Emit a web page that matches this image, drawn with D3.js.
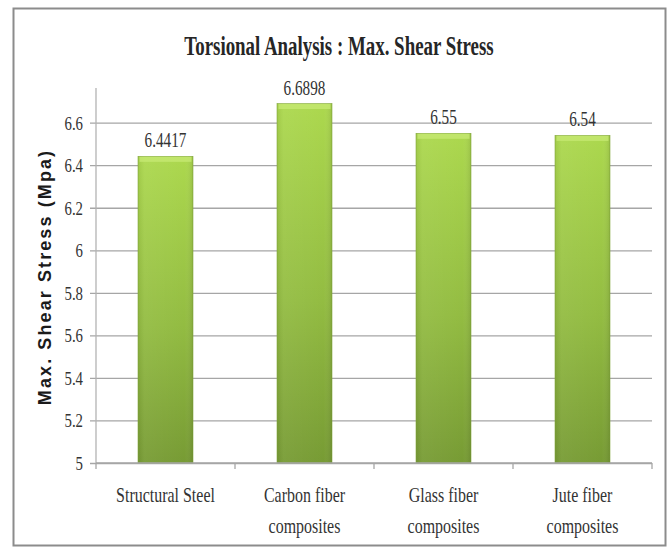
<!DOCTYPE html>
<html>
<head>
<meta charset="utf-8">
<script src="https://cdn.jsdelivr.net/npm/d3@7"></script>
<style>
  html, body { margin: 0; padding: 0; background: #fff; }
  svg { display: block; }
</style>
</head>
<body>
<svg id="chart" width="672" height="548"></svg>
<script>
// Chart data
const categories = [
  ["Structural Steel"],
  ["Carbon fiber", "composites"],
  ["Glass fiber", "composites"],
  ["Jute fiber", "composites"]
];
const values = [6.4417, 6.6898, 6.55, 6.54];
const valueLabels = ["6.4417", "6.6898", "6.55", "6.54"];
const yTicks = [5, 5.2, 5.4, 5.6, 5.8, 6, 6.2, 6.4, 6.6];
const titleText = "Torsional Analysis : Max. Shear Stress";
const yAxisTitle = "Max. Shear Stress (Mpa)";

const svg = d3.select("#chart");
const serif = "'Liberation Serif', 'DejaVu Serif', serif";

// Outer frame
svg.append("rect")
  .attr("x", 13.5).attr("y", 8.5)
  .attr("width", 652).attr("height", 537)
  .attr("fill", "#fff")
  .attr("stroke", "#8c8c8c").attr("stroke-width", 2);

const plot = { left: 96, right: 652, top: 88, bottom: 463 };

const band = d3.scaleBand()
  .domain(d3.range(categories.length))
  .range([plot.left, plot.right]);

const y = d3.scaleLinear()
  .domain([5, 6.763])
  .range([plot.bottom, plot.top]);

const barW = 55;
const cx = i => band(i) + band.bandwidth() / 2;

// Gradients for the bars
const defs = svg.append("defs");
const grad = defs.append("linearGradient")
  .attr("id", "barGrad").attr("x1", 0).attr("y1", 0).attr("x2", 0).attr("y2", 1);
grad.append("stop").attr("offset", "0%").attr("stop-color", "#acd84e");
grad.append("stop").attr("offset", "55%").attr("stop-color", "#93bc42");
grad.append("stop").attr("offset", "100%").attr("stop-color", "#779b34");

const hgrad = defs.append("linearGradient")
  .attr("id", "barSide").attr("x1", 0).attr("y1", 0).attr("x2", 1).attr("y2", 0);
hgrad.append("stop").attr("offset", "0%").attr("stop-color", "#000").attr("stop-opacity", 0.06);
hgrad.append("stop").attr("offset", "12%").attr("stop-color", "#fff").attr("stop-opacity", 0.05);
hgrad.append("stop").attr("offset", "85%").attr("stop-color", "#fff").attr("stop-opacity", 0);
hgrad.append("stop").attr("offset", "100%").attr("stop-color", "#000").attr("stop-opacity", 0.1);

// Gridlines and y axis
const yAxis = d3.axisLeft(y)
  .tickValues(yTicks)
  .tickSize(-(plot.right - plot.left))
  .tickFormat(d3.format("~g"));

const gy = svg.append("g")
  .attr("transform", `translate(${plot.left},0)`)
  .call(yAxis);
gy.select(".domain").remove();
gy.selectAll(".tick line")
  .attr("x1", -6)
  .attr("stroke", "#a6a6a6").attr("stroke-width", 1.3);
gy.selectAll(".tick text")
  .attr("font-family", serif).attr("font-size", 19).attr("fill", "#333")
  .attr("transform", "scale(0.78,1)")
  .attr("x", -13 / 0.78)
  .attr("dy", "0.34em");

// Vertical axis line
svg.append("line")
  .attr("x1", plot.left).attr("x2", plot.left)
  .attr("y1", plot.top).attr("y2", plot.bottom)
  .attr("stroke", "#b3b3b3").attr("stroke-width", 1.3);

// Bars
const bars = svg.append("g").selectAll("g.bar")
  .data(values)
  .join("g").attr("class", "bar");

bars.append("rect")
  .attr("x", (d, i) => cx(i) - barW / 2)
  .attr("width", barW)
  .attr("y", d => y(d))
  .attr("height", d => y(5) - y(d))
  .attr("fill", "url(#barGrad)")
  .attr("stroke", "#84a83c").attr("stroke-width", 0.6);

bars.append("rect")
  .attr("x", (d, i) => cx(i) - barW / 2)
  .attr("width", barW)
  .attr("y", d => y(d))
  .attr("height", d => y(5) - y(d))
  .attr("fill", "url(#barSide)");

// Light bevel at the top of each bar
bars.append("rect")
  .attr("x", (d, i) => cx(i) - barW / 2 + 1.5)
  .attr("width", barW - 3)
  .attr("y", d => y(d) + 0.5)
  .attr("height", 5)
  .attr("fill", "#c6e872").attr("opacity", 0.8);

// Value labels
svg.append("g").selectAll("text")
  .data(values)
  .join("text")
  .attr("text-anchor", "middle")
  .attr("font-family", serif).attr("font-size", 20).attr("fill", "#333")
  .attr("transform", (d, i) => `translate(${cx(i)},${y(d) - 9}) scale(0.76,1)`)
  .text((d, i) => valueLabels[i]);

// X axis baseline and category dividers
svg.append("line")
  .attr("x1", plot.left).attr("x2", plot.right)
  .attr("y1", plot.bottom).attr("y2", plot.bottom)
  .attr("stroke", "#a6a6a6").attr("stroke-width", 1.3);

svg.append("g").selectAll("line")
  .data(d3.range(categories.length + 1))
  .join("line")
  .attr("x1", i => i < categories.length ? band(i) : plot.right)
  .attr("x2", i => i < categories.length ? band(i) : plot.right)
  .attr("y1", plot.bottom).attr("y2", plot.bottom + 6)
  .attr("stroke", "#a6a6a6").attr("stroke-width", 1.3);

// Category labels
const catG = svg.append("g").selectAll("g")
  .data(categories)
  .join("g")
  .attr("transform", (d, i) => `translate(${cx(i)},502) scale(0.76,1)`);
catG.selectAll("text")
  .data(d => d)
  .join("text")
  .attr("text-anchor", "middle")
  .attr("y", (d, j) => j * 31)
  .attr("font-family", serif).attr("font-size", 21).attr("fill", "#333")
  .text(d => d);

// Chart title
svg.append("text")
  .attr("transform", "translate(339,55) scale(0.7,1)")
  .attr("text-anchor", "middle")
  .attr("font-family", serif).attr("font-weight", "bold")
  .attr("font-size", 27).attr("fill", "#262626")
  .text(titleText);

// Y axis title
svg.append("text")
  .attr("transform", "translate(51,277) rotate(-90)")
  .attr("text-anchor", "middle")
  .attr("font-family", "'Liberation Sans', Arial, sans-serif").attr("font-weight", "bold")
  .attr("font-size", 18).attr("fill", "#1a1a1a")
  .attr("letter-spacing", 2.1)
  .text(yAxisTitle);
</script>
</body>
</html>
